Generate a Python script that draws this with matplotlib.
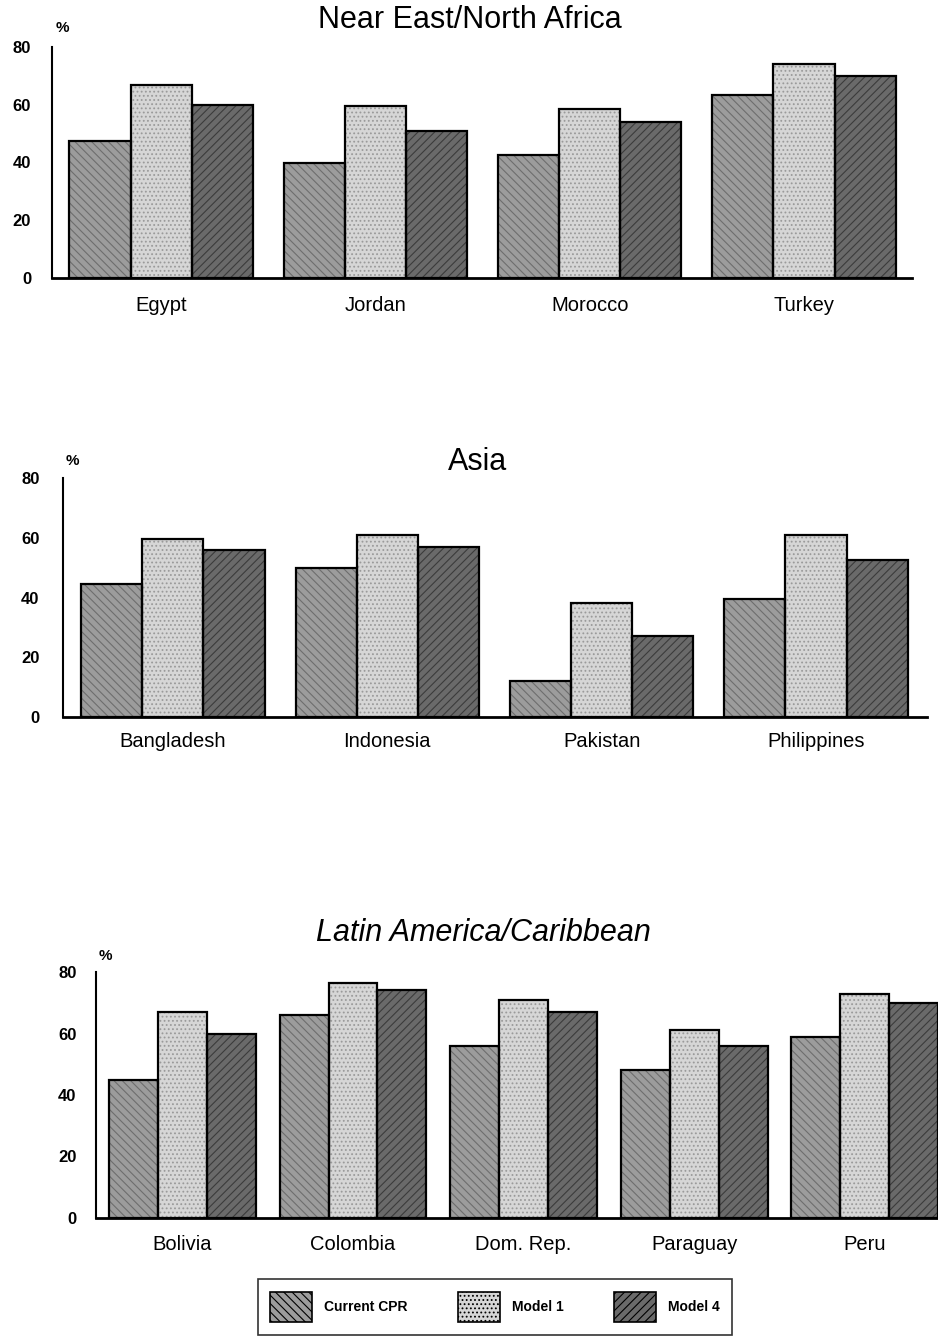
import matplotlib
matplotlib.use("Agg")
import matplotlib.pyplot as plt
import numpy as np
from matplotlib.patches import Patch

plt.rcParams['font.family'] = ['Liberation Sans', 'DejaVu Sans']
plt.rcParams['hatch.linewidth'] = 0.8

series = ["Current CPR", "Model 1", "Model 4"]

ne_countries = ["Egypt", "Jordan", "Morocco", "Turkey"]
ne_cpr = [47.5, 40, 42.5, 63.5]
ne_m1 = [67, 59.5, 58.5, 74]
ne_m4 = [60, 51, 54, 70]

asia_countries = ["Bangladesh", "Indonesia", "Pakistan", "Philippines"]
asia_cpr = [44.5, 50, 12, 39.5]
asia_m1 = [59.5, 61, 38, 61]
asia_m4 = [56, 57, 27, 52.5]

la_countries = ["Bolivia", "Colombia", "Dom. Rep.", "Paraguay", "Peru"]
la_cpr = [45, 66, 56, 48, 59]
la_m1 = [67, 76.5, 71, 61, 73]
la_m4 = [60, 74, 67, 56, 70]

yticks = [0, 20, 40, 60, 80]

# halftone-like fills: (face, hatch colour, hatch)
styles = [
    ("#9c9c9c", "#6e6e6e", "\\\\\\\\"),
    ("#d6d6d6", "#9a9a9a", "...."),
    ("#6a6a6a", "#3c3c3c", "////"),
]

W, H = 938, 1342
fig = plt.figure(figsize=(W / 100, H / 100), dpi=100)


def px_axes(left, right, top, bottom):
    return fig.add_axes([left / W, 1 - bottom / H, (right - left) / W, (bottom - top) / H])


def panel(ax, cats, vals, width, xlim, label_pad, ytick_pad):
    x = np.arange(len(cats))
    for k, (v, (fc, hc, hatch)) in enumerate(zip(vals, styles)):
        pos = x + (k - 1) * width
        ax.bar(pos, v, width, color=fc, edgecolor=hc, hatch=hatch, linewidth=0, zorder=2)
        ax.bar(pos, v, width, fill=False, edgecolor="black", linewidth=1.6, zorder=3)
    ax.set_xlim(*xlim)
    ax.set_ylim(0, 80)
    ax.set_yticks(yticks)
    ax.set_yticklabels([str(t) for t in yticks], fontsize=12, fontweight="bold")
    ax.set_xticks(x)
    ax.set_xticklabels(cats, fontsize=14.5)
    ax.tick_params(axis="both", length=0)
    ax.tick_params(axis="x", pad=label_pad)
    ax.tick_params(axis="y", pad=ytick_pad)
    for s in ("top", "right"):
        ax.spines[s].set_visible(False)
    ax.spines["left"].set_linewidth(1.5)
    ax.spines["bottom"].set_linewidth(2.0)
    ax.spines["bottom"].set_zorder(4)
    ax.patch.set_alpha(0)


# Near East / North Africa
ax1 = px_axes(52, 912, 47, 278)
panel(ax1, ne_countries, [ne_cpr, ne_m1, ne_m4], 0.285, (-0.509, 3.504), 13, 15)
fig.text(470 / W, 1 - 20 / H, "Near East/North Africa", ha="center", va="center", fontsize=22)
fig.text(62 / W, 1 - 28 / H, "%", ha="center", va="center", fontsize=11, fontweight="bold")

# Asia
ax2 = px_axes(63, 927, 478, 717)
panel(ax2, asia_countries, [asia_cpr, asia_m1, asia_m4], 0.285, (-0.513, 3.518), 11, 17)
fig.text(478 / W, 1 - 462 / H, "Asia", ha="center", va="center", fontsize=22)
fig.text(72 / W, 1 - 461 / H, "%", ha="center", va="center", fontsize=11, fontweight="bold")

# Latin America / Caribbean
ax3 = px_axes(96, 938, 972, 1218)
panel(ax3, la_countries, [la_cpr, la_m1, la_m4], 0.287, (-0.507, 4.43), 12, 14)
fig.text(483 / W, 1 - 933 / H, "Latin America/Caribbean", ha="center", va="center",
         fontsize=22, style="italic")
fig.text(105 / W, 1 - 956 / H, "%", ha="center", va="center", fontsize=11, fontweight="bold")

# Shared legend
handles = []
for (fc, hc, hatch), name in zip(styles, series):
    handles.append(Patch(facecolor=fc, edgecolor="black", hatch=hatch, linewidth=1.2, label=name))
leg = fig.legend(handles=handles, loc="center", bbox_to_anchor=(495 / W, 1 - 1307 / H),
                 ncol=3, frameon=True, fancybox=False, edgecolor="black",
                 prop={"size": 10, "weight": "bold"}, handlelength=3.0, handleheight=3.0,
                 columnspacing=3.6, handletextpad=0.9, borderpad=0.9, borderaxespad=0)
leg.get_frame().set_linewidth(1.2)

fig.savefig("out.png", dpi=100, facecolor="white")
